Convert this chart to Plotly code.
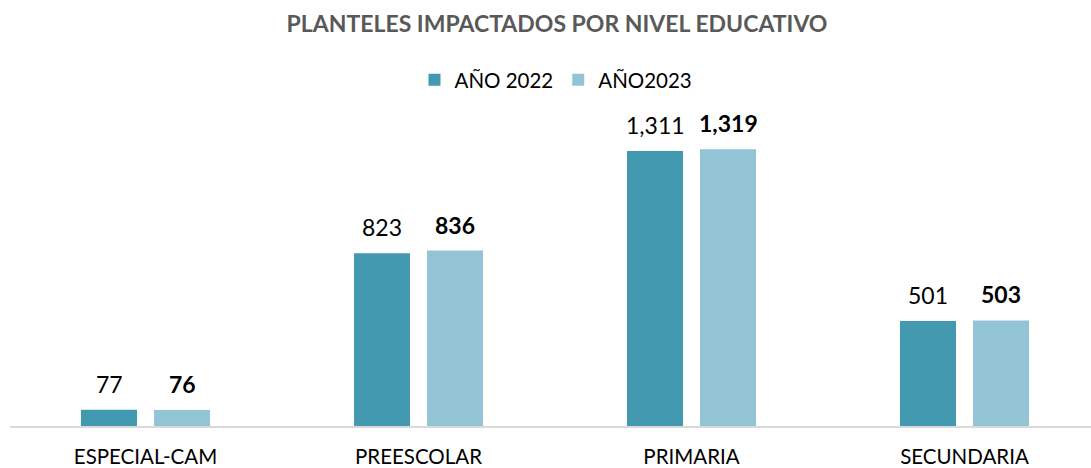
import plotly.graph_objects as go

categories = ["ESPECIAL-CAM", "PREESCOLAR", "PRIMARIA", "SECUNDARIA"]
values_2022 = [77, 823, 1311, 501]
values_2023 = [76, 836, 1319, 503]
series_names = ["AÑO 2022", "AÑO2023"]

C1 = "#4399B0"
C2 = "#93C4D6"
FONT = "Lato"

W, H = 1091, 468
L, R, T, B = 10, 0, 110, 42
plot_w = W - L - R
slot = 273.0
span = plot_w / slot
r0 = -(145.5 - L) / slot
r1 = r0 + span

fig = go.Figure()
fig.add_trace(go.Bar(x=categories, y=values_2022, name=series_names[0],
                     marker=dict(color=C1, line=dict(width=0))))
fig.add_trace(go.Bar(x=categories, y=values_2023, name=series_names[1],
                     marker=dict(color=C2, line=dict(width=0))))

annotations = []
for i, c in enumerate(categories):
    annotations.append(dict(x=c, y=values_2022[i], xref="x", yref="y",
                            text=f"{values_2022[i]:,}", showarrow=False,
                            xshift=-36.5, yshift=26,
                            font=dict(family=FONT, size=23, color="#000000")))
    annotations.append(dict(x=c, y=values_2023[i], xref="x", yref="y",
                            text=f"<b>{values_2023[i]:,}</b>", showarrow=False,
                            xshift=36.5, yshift=26,
                            font=dict(family=FONT, size=23, color="#000000")))

fig.update_layout(
    width=W, height=H,
    margin=dict(l=L, r=R, t=T, b=B),
    paper_bgcolor="white", plot_bgcolor="white",
    barmode="group", bargap=0.465, bargroupgap=0.233,
    title=dict(text="<b>PLANTELES IMPACTADOS POR NIVEL EDUCATIVO</b>",
               x=(557 - L) / plot_w, xref="paper", xanchor="center",
               y=1 - 23.5 / H, yanchor="middle",
               font=dict(family=FONT, size=23, color="#595959")),
    legend=dict(orientation="h", x=(556 - L) / plot_w, xanchor="center",
                y=1 + (T - 80) / (H - T - B), yanchor="middle",
                font=dict(family=FONT, size=20.5, color="#000000"),
                itemwidth=30, traceorder="normal"),
    xaxis=dict(range=[r0, r1], showline=True, linecolor="#D9D9D9", linewidth=1.5,
               ticks="", showgrid=False, ticklabelstandoff=12,
               tickfont=dict(family=FONT, size=20.5, color="#000000")),
    yaxis=dict(range=[0, 316 / 0.2098], visible=False, showgrid=False),
    annotations=annotations,
    showlegend=True,
)

fig.write_html("out.html", config={"displayModeBar": False},
               post_script="document.body.style.margin='0';")
